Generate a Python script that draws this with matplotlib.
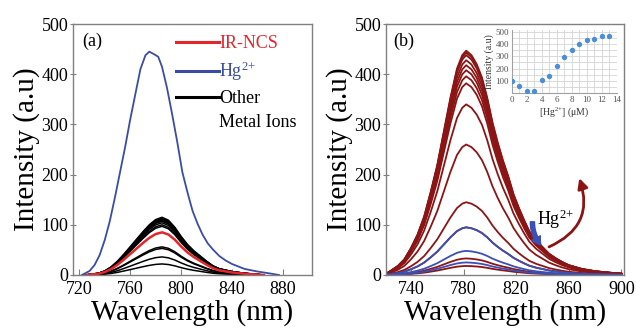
import numpy as np
import matplotlib.pyplot as plt
from matplotlib.lines import Line2D

plt.rcParams['font.family'] = ['Liberation Serif', 'DejaVu Serif']
plt.rcParams['mathtext.fontset'] = 'custom'
plt.rcParams['mathtext.rm'] = 'Liberation Serif'
plt.rcParams['mathtext.it'] = 'Liberation Serif:italic'

# ---- panel (a): selectivity ----
blue_a_wl = [722, 728, 732, 736, 740, 744, 748, 752, 756, 760, 764, 768, 772, 775, 778, 782,
             785, 789, 793, 797, 801, 805, 809, 813, 817, 821, 825, 830, 835, 840, 850, 860, 870, 877]
blue_a_int = [0, 8, 20, 40, 70, 108, 155, 205, 255, 310, 360, 410, 438, 445, 441, 435,
              415, 372, 320, 265, 205, 165, 128, 102, 80, 63, 51, 38, 29, 22, 12, 7, 3, 0]

# normalised emission profile of the probe / other ions
probe_wl = [725, 735, 740, 745, 750, 755, 760, 765, 770, 775, 780, 785, 790, 795, 800,
            805, 810, 815, 820, 825, 830, 840, 850, 860, 865]
probe_shape = [0, 0.03, 0.07, 0.14, 0.24, 0.36, 0.49, 0.62, 0.75, 0.87, 0.96, 1.0, 0.95, 0.83, 0.67,
               0.53, 0.42, 0.33, 0.24, 0.16, 0.11, 0.06, 0.03, 0.01, 0]
ir_ncs_peak = 85
other_ion_peaks = [115, 113, 111, 109, 107, 104, 100, 97, 56, 53, 36, 22]

# ---- panel (b): titration ----
titr_wl = [721, 725, 730, 735, 740, 745, 750, 755, 760, 765, 770, 775, 779, 782, 786, 790, 794, 798,
           802, 806, 810, 814, 818, 822, 826, 830, 835, 840, 845, 850, 855, 860, 870, 880, 890, 900]
titr_shape = [0.005, 0.02, 0.04, 0.07, 0.12, 0.18, 0.26, 0.37, 0.49, 0.64, 0.79, 0.92, 0.98, 1.0, 0.98,
              0.94, 0.88, 0.79, 0.68, 0.59, 0.51, 0.44, 0.36, 0.30, 0.245, 0.195, 0.155, 0.125, 0.095,
              0.075, 0.058, 0.044, 0.027, 0.017, 0.011, 0.006]
titr_red_peaks = [447, 443, 438, 428, 418, 408, 396, 382, 340, 260, 145, 95, 33, 18]
titr_blue_peaks = [95, 48, 25]

# ---- inset ----
hg_conc = [0, 1, 2, 3, 4, 5, 6, 7, 8, 9, 10, 11, 12, 13]
hg_int = [97, 58, 17, 17, 103, 139, 217, 294, 350, 403, 436, 444, 464, 469]

RED_A = '#e3262b'
BLUE_A = '#3a4ca4'
DARK_RED = '#8b1414'
BLUE_B = '#3a50b4'
FRAME = '#808080'
HG = 'Hg$^{2{+}}$'


def style_axes(ax):
    for s in ax.spines.values():
        s.set_color(FRAME)
        s.set_linewidth(1.0)
    ax.tick_params(axis='x', direction='in', length=4, color=FRAME, labelsize=13, pad=4)
    ax.tick_params(axis='y', direction='inout', length=5, color=FRAME, labelsize=13, pad=1)
    ax.set_ylim(0, 500)
    ax.set_yticks([0, 100, 200, 300, 400, 500])
    ax.set_xlabel('Wavelength (nm)', fontsize=21, labelpad=1)
    ax.set_ylabel('Intensity (a.u)', fontsize=21, labelpad=1)


fig = plt.figure(figsize=(6.36, 3.28), dpi=100)
ax1 = fig.add_axes([0.1148, 0.1616, 0.3758, 0.765])
ax2 = fig.add_axes([0.6069, 0.1616, 0.3742, 0.765])

# panel (a)
for pk in other_ion_peaks:
    ax1.plot(probe_wl, np.array(probe_shape) * pk, color='black', lw=1.1)
ax1.plot(probe_wl, np.array(probe_shape) * ir_ncs_peak, color=RED_A, lw=1.8)
ax1.plot(blue_a_wl, blue_a_int, color=BLUE_A, lw=1.3)
ax1.set_xlim(715, 903)
ax1.set_xticks([720, 760, 800, 840, 880])
style_axes(ax1)
ax1.text(0.04, 0.93, '(a)', transform=ax1.transAxes, fontsize=13, va='center')

handles = [Line2D([], [], color=RED_A, lw=2.2),
           Line2D([], [], color=BLUE_A, lw=2.2),
           Line2D([], [], color='black', lw=2.2),
           Line2D([], [], color='none')]
labels = ['IR-NCS', HG, 'Other', 'Metal Ions']
ax1.legend(handles, labels, loc='upper left', bbox_to_anchor=(0.43, 0.955), frameon=False,
           fontsize=13, handlelength=2.4, handletextpad=0.0, labelspacing=0.4,
           borderpad=0, borderaxespad=0, labelcolor=[RED_A, BLUE_A, 'black', 'black'])

# panel (b)
for pk in titr_red_peaks:
    ax2.plot(titr_wl, np.array(titr_shape) * pk, color=DARK_RED, lw=1.3)
for pk in titr_blue_peaks:
    ax2.plot(titr_wl, np.array(titr_shape) * pk, color=BLUE_B, lw=1.3)
ax2.set_xlim(721, 902)
ax2.set_xticks([740, 780, 820, 860, 900])
style_axes(ax2)
ax2.text(0.03, 0.93, '(b)', transform=ax2.transAxes, fontsize=13, va='center')

ax2.text(850, 110, HG, fontsize=13, ha='center', va='center')
ax2.annotate('', xy=(838.8, 60), xytext=(832.4, 106),
             arrowprops=dict(arrowstyle='simple,head_width=0.7,head_length=0.6,tail_width=0.3',
                             color=BLUE_B, connectionstyle='arc3,rad=0.2', mutation_scale=10,
                             shrinkA=0, shrinkB=0))
ax2.annotate('', xy=(868, 193), xytext=(845, 56),
             arrowprops=dict(arrowstyle='-|>,head_width=0.25,head_length=0.5', lw=2,
                             color=DARK_RED, connectionstyle='arc3,rad=0.45',
                             shrinkA=0, shrinkB=0, mutation_scale=12))

# inset
axin = fig.add_axes([0.805, 0.7165, 0.165, 0.192])
axin.scatter(hg_conc, hg_int, s=8, color='#4a8fd6', zorder=3)
axin.set_xlim(0, 14)
axin.set_ylim(0, 515)
axin.set_xticks(range(0, 15, 2))
axin.set_xticks(range(0, 15), minor=True)
axin.set_yticks([100, 200, 300, 400, 500])
axin.set_yticks(range(50, 520, 50), minor=True)
axin.grid(True, which='both', color='#d4d4d4', lw=0.6)
axin.set_axisbelow(True)
for s in ['top', 'right']:
    axin.spines[s].set_visible(False)
for s in ['left', 'bottom']:
    axin.spines[s].set_color('#a0a0a0')
    axin.spines[s].set_linewidth(0.8)
axin.tick_params(which='both', length=0, labelsize=6.5, labelcolor='#555555', pad=2)
axin.set_xlabel('[' + HG + '] (μM)', fontsize=7, labelpad=1, color='#333333')
axin.set_ylabel('Intensity (a.u)', fontsize=7, labelpad=1, color='#333333')

fig.savefig('out.png', dpi=100)
